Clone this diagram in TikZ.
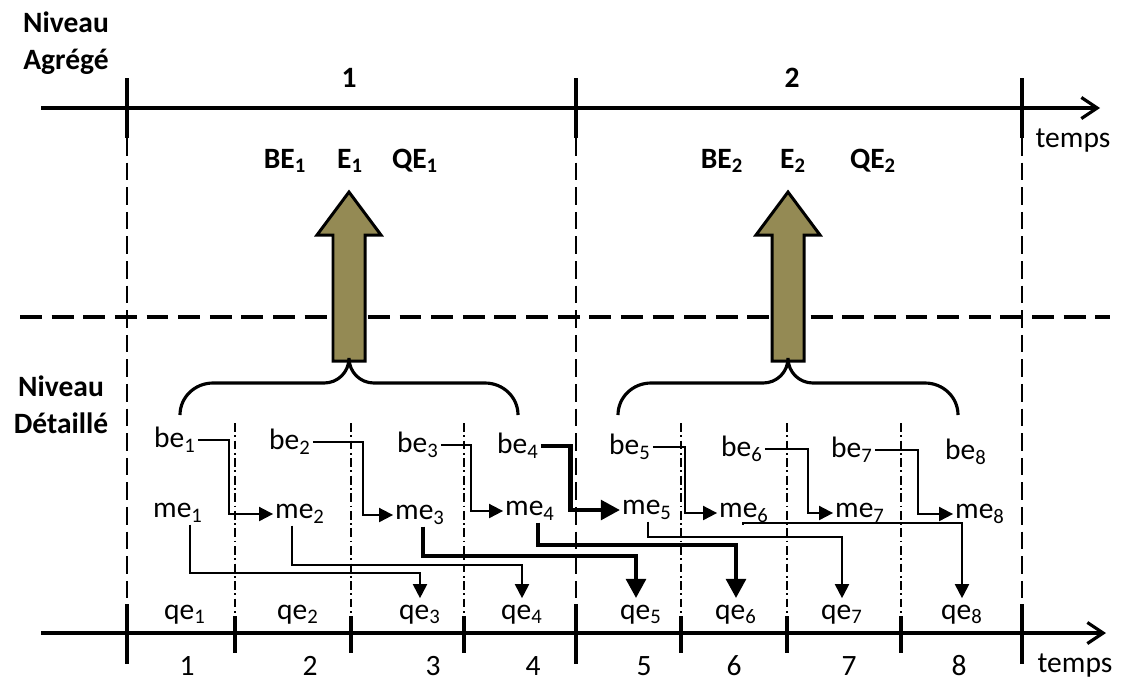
\documentclass[tikz,border=0pt]{standalone}
\usepackage{fontspec}
\setmainfont{Carlito}
\usetikzlibrary{arrows.meta, positioning, calc}
\definecolor{olivebrown}{RGB}{148,138,84}

\begin{document}
\begin{tikzpicture}[x=0.02cm, y=-0.02cm]
    % --- Style Definitions ---
    \tikzset{
        axis line/.style={
            draw=black,
            line width=1.8pt,
            -{Straight Barb[length=9pt, width=12pt]}
        },
        tick/.style={draw=black, line width=1.8pt},
        period line/.style={
            draw=black,
            line width=0.9pt,
            dash pattern=on 10pt off 4pt
        },
        level line/.style={
            draw=black,
            line width=1.8pt,
            dash pattern=on 12.5pt off 5.5pt
        },
        sub line/.style={
            draw=black,
            line width=0.6pt,
            dash pattern=on 5pt off 2pt on 1pt off 2pt
        },
        flow thin/.style={
            draw=black,
            line width=1.1pt,
            -{Triangle[length=8pt, width=8pt]}
        },
        flow thick/.style={
            draw=black,
            line width=2.8pt,
            -{Triangle[length=11pt, width=11pt]}
        },
        brace line/.style={draw=black, line width=1.8pt},
        big arrow/.style={
            draw=black,
            line width=1.7pt,
            fill=olivebrown,
            line join=miter
        },
        label text/.style={
            font=\fontsize{16.8}{20}\selectfont,
            inner sep=1pt
        },
        level text/.style={
            font=\fontsize{16.8}{21}\selectfont\bfseries,
            align=center,
            inner sep=1pt
        }
    }

    \useasboundingbox (0,0) rectangle (1121,681);

    % --- 1. Level labels ---
    \node[level text] (lbl_agg) at (66,43) {Niveau\\Agrégé};
    \node[level text] (lbl_det) at (61,405) {Niveau\\Détaillé};

    % --- 2. Period boundaries (dashed) ---
    \draw[period line] (127,138) -- (127,604);
    \draw[period line] (576,138) -- (576,604);
    \draw[period line] (1022,138) -- (1022,604);

    % sub-period boundaries (dash dot)
    \draw[sub line] (235,423) -- (235,616);
    \draw[sub line] (351,423) -- (351,616);
    \draw[sub line] (464,423) -- (464,616);
    \draw[sub line] (681,423) -- (681,616);
    \draw[sub line] (787,423) -- (787,616);
    \draw[sub line] (901,423) -- (901,616);

    % --- 3. Aggregated time axis ---
    \draw[axis line] (41,108) -- (1100,108);
    \draw[tick] (127,78) -- (127,138);
    \draw[tick] (576,78) -- (576,138);
    \draw[tick] (1022,78) -- (1022,138);
    \node[level text] (per1) at (349,78) {1};
    \node[level text] (per2) at (792,78) {2};
    \node[label text] (temps_top) at (1073,141) {temps};

    \node[level text] (be_agg1) at (285,161) {BE\textsubscript{1}};
    \node[level text] (e_agg1) at (350,161) {E\textsubscript{1}};
    \node[level text] (qe_agg1) at (415,161) {QE\textsubscript{1}};
    \node[level text] (be_agg2) at (722,161) {BE\textsubscript{2}};
    \node[level text] (e_agg2) at (793,161) {E\textsubscript{2}};
    \node[level text] (qe_agg2) at (873,161) {QE\textsubscript{2}};

    % --- 4. Separation between levels ---
    \draw[level line] (20,317) -- (1110,317);

    % --- 5. Aggregation arrows and braces ---
    \draw[big arrow] (333,361) -- (333,235) -- (317,235) -- (349,192)
        -- (381,235) -- (365,235) -- (365,361) -- cycle;
    \draw[big arrow] (772,361) -- (772,235) -- (756,235) -- (788,192)
        -- (820,235) -- (804,235) -- (804,361) -- cycle;

    \draw[brace line] (180,415) .. controls (180,397) and (195,383) .. (213,383)
        -- (324,383) .. controls (338,383) and (349,372) .. (349,358)
        .. controls (349,372) and (360,383) .. (374,383)
        -- (485,383) .. controls (503,383) and (518,397) .. (518,415);
    \draw[brace line] (618,415) .. controls (618,397) and (633,383) .. (651,383)
        -- (763,383) .. controls (777,383) and (788,372) .. (788,358)
        .. controls (788,372) and (799,383) .. (813,383)
        -- (925,383) .. controls (943,383) and (958,397) .. (958,415);

    % --- 6. Detailed quantities ---
    \node[label text] (be1) at (175,440) {be\textsubscript{1}};
    \node[label text] (be2) at (290,442) {be\textsubscript{2}};
    \node[label text] (be3) at (418,445) {be\textsubscript{3}};
    \node[label text] (be4) at (518,446) {be\textsubscript{4}};
    \node[label text] (be5) at (630,447) {be\textsubscript{5}};
    \node[label text] (be6) at (742,449) {be\textsubscript{6}};
    \node[label text] (be7) at (852,450) {be\textsubscript{7}};
    \node[label text] (be8) at (966,452) {be\textsubscript{8}};

    \node[label text] (me1) at (178,513) {me\textsubscript{1}};
    \node[label text] (me2) at (300,514) {me\textsubscript{2}};
    \node[label text] (me3) at (420,515) {me\textsubscript{3}};
    \node[label text] (me4) at (530,511) {me\textsubscript{4}};
    \node[label text] (me5) at (647,510) {me\textsubscript{5}};
    \node[label text] (me6) at (744,513) {me\textsubscript{6}};
    \node[label text] (me7) at (860,513) {me\textsubscript{7}};
    \node[label text] (me8) at (980,514) {me\textsubscript{8}};

    \node[label text, anchor=base] (qe1) at (185,619) {qe\textsubscript{1}};
    \node[label text, anchor=base] (qe2) at (298,619) {qe\textsubscript{2}};
    \node[label text, anchor=base] (qe3) at (420,619) {qe\textsubscript{3}};
    \node[label text, anchor=base] (qe4) at (522,619) {qe\textsubscript{4}};
    \node[label text, anchor=base] (qe5) at (641,619) {qe\textsubscript{5}};
    \node[label text, anchor=base] (qe6) at (736,619) {qe\textsubscript{6}};
    \node[label text, anchor=base] (qe7) at (842,619) {qe\textsubscript{7}};
    \node[label text, anchor=base] (qe8) at (962,619) {qe\textsubscript{8}};

    % --- 7. Detailed time axis ---
    \draw[axis line] (41,633) -- (1106,633);
    \draw[tick] (127,604) -- (127,664);
    \draw[tick] (576,604) -- (576,664);
    \draw[tick] (1022,604) -- (1022,664);
    \draw[tick] (235,616) -- (235,653);
    \draw[tick] (351,616) -- (351,653);
    \draw[tick] (464,616) -- (464,653);
    \draw[tick] (681,616) -- (681,653);
    \draw[tick] (787,616) -- (787,653);
    \draw[tick] (901,616) -- (901,653);

    \node[label text, anchor=base] (num1) at (187,675) {1};
    \node[label text, anchor=base] (num2) at (310,675) {2};
    \node[label text, anchor=base] (num3) at (433,675) {3};
    \node[label text, anchor=base] (num4) at (533,675) {4};
    \node[label text, anchor=base] (num5) at (644,675) {5};
    \node[label text, anchor=base] (num6) at (734,675) {6};
    \node[label text, anchor=base] (num7) at (849,675) {7};
    \node[label text, anchor=base] (num8) at (959,675) {8};
    \node[label text] (temps_bot) at (1075,666) {temps};

    % --- 8. be -> me links ---
    \draw[flow thin] (be1.east) -- ++(31,0) |- (me2.west);
    \draw[flow thin] (be2.east) -- ++(50,0) |- (me3.west);
    \draw[flow thin] (be3.east) -- ++(30,0) |- (me4.west);
    \draw[flow thick] (be4.east) -- ++(30,0) |- (me5.west);
    \draw[flow thin] (be5.east) -- ++(32,0) |- (me6.west);
    \draw[flow thin] (be6.east) -- ++(43,0) |- (me7.west);
    \draw[flow thin] (be7.east) -- ++(43,0) |- (me8.west);

    % --- 9. me -> qe links ---
    \coordinate (turn1) at (190,573);
    \coordinate (turn2) at (292,565);
    \coordinate (turn3) at (423,556);
    \coordinate (turn4) at (538,545);
    \coordinate (turn5) at (648,537);
    \coordinate (turn6) at (743,523);
    \draw[flow thin, shorten >=2.5pt] (me1.south -| turn1) -- (turn1) -| (qe3.north);
    \draw[flow thin, shorten >=2.5pt] (me2.south -| turn2) -- (turn2) -| (qe4.north);
    \draw[flow thick, shorten >=2.5pt] (me3.south -| turn3) -- (turn3) -| ($(qe5.north)+(-5,0)$);
    \draw[flow thick, shorten >=2.5pt] (me4.south -| turn4) -- (turn4) -| (qe6.north);
    \draw[flow thin, shorten >=2.5pt] (me5.south -| turn5) -- (turn5) -| (qe7.north);
    \draw[flow thin, shorten >=2.5pt] (me6.south -| turn6) -- (turn6) -| (qe8.north);

\end{tikzpicture}
\end{document}
